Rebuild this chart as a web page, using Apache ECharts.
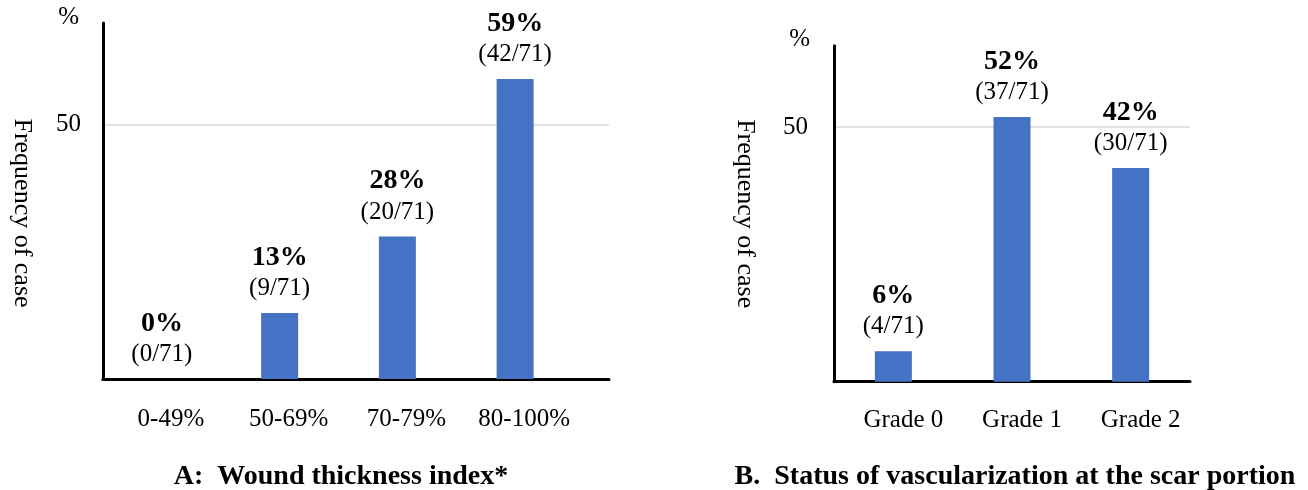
<!DOCTYPE html>
<html><head><meta charset="utf-8">
<script src="https://cdn.jsdelivr.net/npm/echarts@6/dist/echarts.min.js"></script>
<style>html,body{margin:0;padding:0;background:#fff}#c{width:1308px;height:490px}</style>
</head><body><div id="c"></div>
<script>
const catsA = ['0-49%', '50-69%', '70-79%', '80-100%'];
const pctA = [0, 13, 28, 59];
const countA = [0, 9, 20, 42];
const catsB = ['Grade 0', 'Grade 1', 'Grade 2'];
const pctB = [6, 52, 42];
const countB = [4, 37, 30];
const total = 71;
const titleA = 'A:  Wound thickness index*';
const titleB = 'B.  Status of vascularization at the scar portion';
const yName = 'Frequency of case';
const yTick = 50;

const F = '"Liberation Serif", "Times New Roman", serif';
const BLACK = '#000';
const BAR = '#4472C4';

function barLabel(pcts, counts) {
  return {
    show: true, position: 'top', distance: 9, color: BLACK, fontFamily: F,
    formatter: p => `{b|${pcts[p.dataIndex]}%}\n{n|(${counts[p.dataIndex]}/${total})}`,
    rich: {
      b: { fontFamily: F, fontWeight: 'bold', fontSize: 28, lineHeight: 31, color: BLACK },
      n: { fontFamily: F, fontSize: 25, lineHeight: 31, color: BLACK }
    }
  };
}
const axLine = { show: true, onZero: false, lineStyle: { color: BLACK, width: 3 } };
function catAxis(grid, data, margin, shift) {
  return { type: 'category', gridIndex: grid, data: data, axisLine: axLine, axisTick: { show: false },
    axisLabel: { interval: 0, hideOverlap: false, margin: margin, padding: [0, 0, 0, shift], fontSize: 25, color: BLACK, fontFamily: F }, splitLine: { show: false } };
}
function valAxisMain(grid, max, margin) {
  return { type: 'value', gridIndex: grid, position: 'left', min: 0, max: max, interval: yTick,
    axisLine: axLine, axisTick: { show: false },
    axisLabel: { formatter: v => v === yTick ? String(yTick) : '', margin: margin, fontSize: 25, color: BLACK, fontFamily: F },
    splitLine: { show: true, showMinLine: false, showMaxLine: false, lineStyle: { color: '#d9d9d9', width: 1.5 } },
    name: '%', nameLocation: 'end', nameGap: 6,
    nameTextStyle: { align: 'right', verticalAlign: 'middle', padding: [0, 24, 0, 0], fontSize: 25, color: BLACK, fontFamily: F } };
}
function nameAxis(grid, max, gap, shift) {
  return { type: 'value', gridIndex: grid, position: 'left', min: 0, max: max,
    axisLine: { show: false }, axisTick: { show: false }, axisLabel: { show: false }, splitLine: { show: false },
    name: yName, nameLocation: 'middle', nameRotate: -90, nameGap: gap,
    nameTextStyle: { fontSize: 26, color: BLACK, fontFamily: F, align: 'center', verticalAlign: 'middle', padding: [0, 0, 0, shift] } };
}

const chart = echarts.init(document.getElementById('c'), null, { renderer: 'canvas' });
chart.setOption({
  animation: false,
  backgroundColor: '#fff',
  title: [
    { text: titleA, left: 336, top: 458, textAlign: 'center', textStyle: { fontFamily: F, fontWeight: 'bold', fontSize: 28, color: BLACK } },
    { text: titleB, left: 1010, top: 458, textAlign: 'center', textStyle: { fontFamily: F, fontWeight: 'bold', fontSize: 28, color: BLACK } }
  ],
  grid: [
    { left: 103, top: 23, width: 471, height: 356 },
    { left: 103, top: 23, width: 506, height: 356 },
    { left: 834, top: 45.7, width: 356, height: 336 }
  ],
  xAxis: [
    catAxis(0, catsA, 28, 18),
    { type: 'value', gridIndex: 1, min: 0, max: 1, axisLine: axLine, axisTick: { show: false }, axisLabel: { show: false }, splitLine: { show: false } },
    catAxis(2, catsB, 26, 20)
  ],
  yAxis: [
    nameAxis(0, 70, 81, 24),
    valAxisMain(1, 70, 22),
    valAxisMain(2, 66, 26),
    nameAxis(2, 66, 89, 0)
  ],
  series: [
    { type: 'bar', xAxisIndex: 0, yAxisIndex: 0, data: pctA, barWidth: 37, itemStyle: { color: BAR }, label: barLabel(pctA, countA) },
    { type: 'bar', xAxisIndex: 2, yAxisIndex: 2, data: pctB, barWidth: 37, itemStyle: { color: BAR }, label: barLabel(pctB, countB) }
  ]
});
</script></body></html>
